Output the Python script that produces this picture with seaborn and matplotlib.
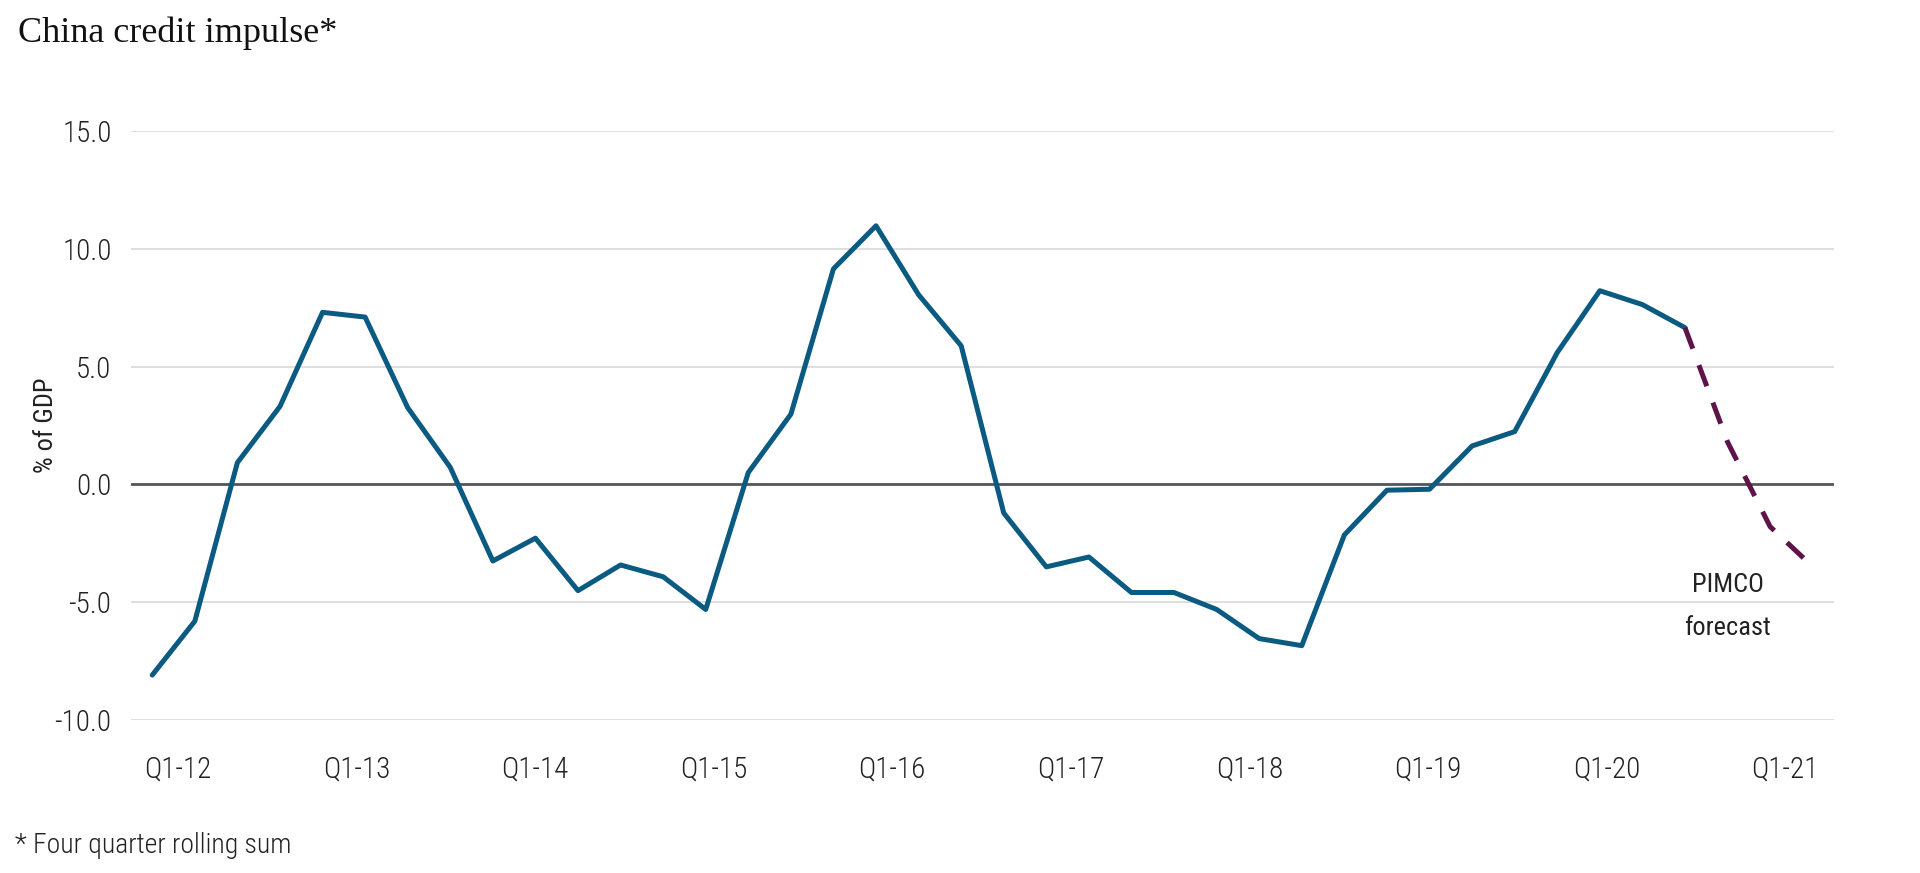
import numpy as np
import pandas as pd
import seaborn as sns
import matplotlib.pyplot as plt

# credit impulse, % of GDP, one value per quarter
actual = [-8.11, -5.82, 0.92, 3.31, 7.31, 7.11, 3.26, 0.72, -3.26, -2.29,
          -4.52, -3.43, -3.93, -5.32, 0.50, 2.98, 9.16, 10.99, 8.06, 5.89,
          -1.22, -3.51, -3.09, -4.60, -4.60, -5.32, -6.56, -6.86, -2.15, -0.25,
          -0.21, 1.63, 2.24, 5.60, 8.23, 7.64, 6.66]
# PIMCO forecast, starts at the last actual quarter
forecast = [6.66, 1.8, -1.8, -3.5]

year_labels = ['Q1-12', 'Q1-13', 'Q1-14', 'Q1-15', 'Q1-16',
               'Q1-17', 'Q1-18', 'Q1-19', 'Q1-20', 'Q1-21']
y_ticks = [-10, -5, 0, 5, 10, 15]

df_actual = pd.DataFrame({'quarter': range(len(actual)), 'impulse': actual})
start = len(actual) - 1
df_fc = pd.DataFrame({'quarter': range(start, start + len(forecast)), 'impulse': forecast})

sns.set_theme(style='white')
plt.rcParams['font.family'] = ['Roboto Condensed', 'Roboto', 'DejaVu Sans']
plt.rcParams['font.weight'] = 'light'

fig = plt.figure(figsize=(19.2, 8.73), dpi=100)
ax = fig.add_axes([0.0682, 0.1758, 0.8870, 0.6736])

ax.axhline(0, color='#53575c', lw=2.0, zorder=1)
sns.lineplot(data=df_actual, x='quarter', y='impulse', ax=ax,
             color='#0a5a82', lw=3.6, zorder=3)
sns.lineplot(data=df_fc, x='quarter', y='impulse', ax=ax,
             color='#5e1448', lw=3.6, dashes=False, zorder=3,
             linestyle=(0, (4.5, 3.5)))

ax.set_xlim(-0.5, 39.5)
ax.set_ylim(-10, 15)
ax.set_yticks(y_ticks)
ax.set_yticklabels([f'{v:.1f}' for v in y_ticks], fontsize=21, color='#222222')
ax.set_xticks(np.linspace(0.6, 38.35, len(year_labels)))
ax.set_xticklabels(year_labels, fontsize=21, color='#222222')
ax.tick_params(axis='x', length=0, pad=26)
ax.tick_params(axis='y', length=0, pad=14)

ax.yaxis.grid(True, color='#d9d9d9', lw=1.2, zorder=0)
ax.xaxis.grid(False)
for s in ax.spines.values():
    s.set_visible(False)

ax.set_xlabel('')
ax.set_ylabel('% of GDP', fontsize=19, color='#222222')
ax.yaxis.set_label_coords(-0.043, 0.5)

ax.text(37, -5.2, 'PIMCO\nforecast', ha='center', va='center',
        fontsize=19, color='#222222', linespacing=2.0, weight='normal')

fig.text(0.0094, 0.962, 'China credit impulse*', fontsize=26,
         family=['Liberation Serif', 'DejaVu Serif'], weight='normal',
         color='#111111', ha='left', va='center')
fig.text(0.0078, 0.032, '* Four quarter rolling sum', fontsize=20,
         color='#222222', ha='left', va='center')

fig.savefig('out.png', dpi=100)
